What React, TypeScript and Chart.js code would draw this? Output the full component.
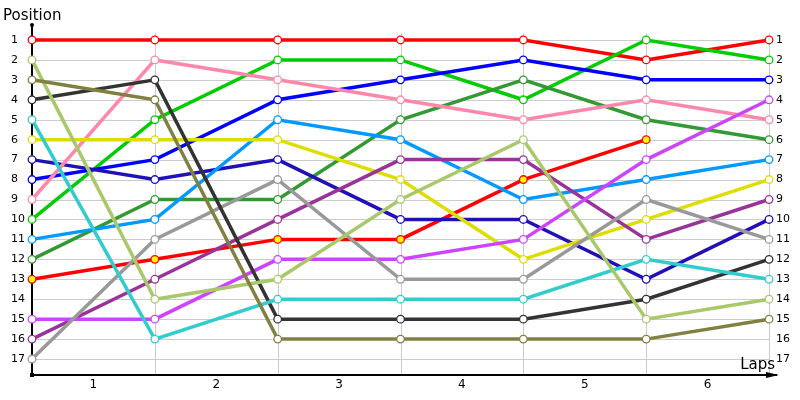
import React, { useEffect, useRef } from "react";
import { Chart, registerables } from "chart.js";

Chart.register(...registerables);

const lapPoints = [0, 1, 2, 3, 4, 5, 6];
const lapLabels = ["1", "2", "3", "4", "5", "6"];
const positionTicks = [1, 2, 3, 4, 5, 6, 7, 8, 9, 10, 11, 12, 13, 14, 15, 16, 17];

const redA = [1, 1, 1, 1, 1, 2, 1];
const redB = [13, 12, 11, 11, 8, 6, null];
const green = [10, 5, 2, 2, 4, 1, 2];
const darkGreen = [12, 9, 9, 5, 3, 5, 6];
const blue = [8, 7, 4, 3, 2, 3, 3];
const navy = [7, 8, 7, 10, 10, 13, 10];
const pink = [9, 2, 3, 4, 5, 4, 5];
const lightBlue = [11, 10, 5, 6, 9, 8, 7];
const yellow = [6, 6, 6, 8, 12, 10, 8];
const purple = [16, 13, 10, 7, 7, 11, 9];
const magenta = [15, 15, 12, 12, 11, 7, 4];
const gray = [17, 11, 8, 13, 13, 9, 11];
const black = [4, 3, 15, 15, 15, 14, 12];
const cyan = [5, 16, 14, 14, 14, 12, 13];
const lightOlive = [2, 14, 13, 9, 6, 15, 14];
const olive = [3, 4, 16, 16, 16, 16, 15];

const seriesList: [string, (number | null)[], string, string][] = [
  ["olive", olive, "#808040", "#ffffff"],
  ["lightOlive", lightOlive, "#a8c86a", "#ffffff"],
  ["cyan", cyan, "#33cccc", "#ffffff"],
  ["black", black, "#333333", "#ffffff"],
  ["gray", gray, "#999999", "#ffffff"],
  ["magenta", magenta, "#cc44ff", "#ffffff"],
  ["purple", purple, "#993399", "#ffffff"],
  ["yellow", yellow, "#dddd00", "#ffffff"],
  ["lightBlue", lightBlue, "#0099ff", "#ffffff"],
  ["pink", pink, "#ff88aa", "#ffffff"],
  ["navy", navy, "#2010b8", "#ffffff"],
  ["blue", blue, "#0000ff", "#ffffff"],
  ["darkGreen", darkGreen, "#339933", "#ffffff"],
  ["green", green, "#00cc00", "#ffffff"],
  ["redB", redB, "#ff0000", "#ffff00"],
  ["redA", redA, "#ff0000", "#ffffff"],
];

const axesPlugin = {
  id: "axesPlugin",
  beforeDatasetsDraw(chart: any) {
    const { ctx, scales } = chart;
    const xs = scales.x;
    const ys = scales.y;
    const x0 = xs.getPixelForValue(0);
    const x6 = xs.getPixelForValue(6);
    const yTop = chart.chartArea.top;
    const yBot = chart.chartArea.bottom;
    ctx.save();
    ctx.lineWidth = 1;
    ctx.strokeStyle = "#cccccc";
    positionTicks.forEach((p) => {
      const y = Math.round(ys.getPixelForValue(p)) + 0.5;
      ctx.beginPath();
      ctx.moveTo(x0, y);
      ctx.lineTo(x6, y);
      ctx.stroke();
    });
    lapPoints.forEach((l) => {
      const x = Math.round(xs.getPixelForValue(l)) + 0.5;
      ctx.beginPath();
      ctx.moveTo(x, yTop + 8);
      ctx.lineTo(x, yBot);
      ctx.stroke();
    });
    // axes
    ctx.strokeStyle = "#000000";
    ctx.lineWidth = 2;
    ctx.beginPath();
    ctx.moveTo(x0, yTop);
    ctx.lineTo(x0, yBot);
    ctx.lineTo(chart.chartArea.right - 8, yBot);
    ctx.stroke();
    ctx.fillStyle = "#000000";
    ctx.beginPath();
    ctx.arc(x0, yTop, 2, 0, Math.PI * 2);
    ctx.fill();
    ctx.fillRect(x0 - 2, yBot - 2, 4, 4);
    ctx.beginPath();
    ctx.moveTo(chart.chartArea.right - 6, yBot);
    ctx.lineTo(chart.chartArea.right - 19, yBot - 3);
    ctx.lineTo(chart.chartArea.right - 19, yBot + 3);
    ctx.closePath();
    ctx.fill();
    // tick labels
    ctx.font = "11px 'DejaVu Sans'";
    ctx.textBaseline = "middle";
    ctx.fillStyle = "#000000";
    positionTicks.forEach((p) => {
      const y = ys.getPixelForValue(p);
      ctx.textAlign = "left";
      ctx.fillText(String(p), 11, y);
      ctx.fillText(String(p), x6 + 7, y);
    });
    ctx.font = "12px 'DejaVu Sans'";
    ctx.textAlign = "center";
    ctx.textBaseline = "top";
    lapLabels.forEach((lab, i) => {
      ctx.fillText(lab, xs.getPixelForValue(i + 0.5), yBot + 4);
    });
    ctx.font = "15px 'DejaVu Sans'";
    ctx.textAlign = "left";
    ctx.textBaseline = "alphabetic";
    ctx.fillText("Position", 3, 20);
    ctx.textAlign = "right";
    ctx.fillText("Laps", x6 + 6, yBot - 6);
    ctx.restore();
  },
};

export default function App() {
  const ref = useRef<HTMLCanvasElement | null>(null);
  useEffect(() => {
    document.body.style.margin = "0";
    const canvas = ref.current;
    if (!canvas) return;
    const chart = new Chart(canvas, {
      type: "line",
      data: {
        datasets: seriesList.map(([name, vals, color, fill]) => ({
          label: name,
          data: vals.map((v, i) => ({ x: lapPoints[i], y: v })),
          borderColor: color,
          backgroundColor: fill,
          pointBackgroundColor: fill,
          pointBorderColor: color,
          pointRadius: 3.8,
          pointBorderWidth: 1.3,
          borderWidth: 3.5,
          tension: 0,
          spanGaps: false,
          clip: false,
        })) as any,
      },
      options: {
        responsive: false,
        animation: false,
        events: [],
        layout: { padding: { left: 32, right: 15, top: 25, bottom: 25 } },
        plugins: {
          legend: { display: false },
          tooltip: { enabled: false },
        },
        scales: {
          x: { type: "linear", min: 0, max: 6.13, display: false },
          y: { type: "linear", min: 0.25, max: 17.8, reverse: true, display: false },
        },
      },
      plugins: [axesPlugin],
    });
    return () => chart.destroy();
  }, []);
  return (
    <div style={{ width: 800, height: 400 }}>
      <canvas ref={ref} width={800} height={400} />
    </div>
  );
}
